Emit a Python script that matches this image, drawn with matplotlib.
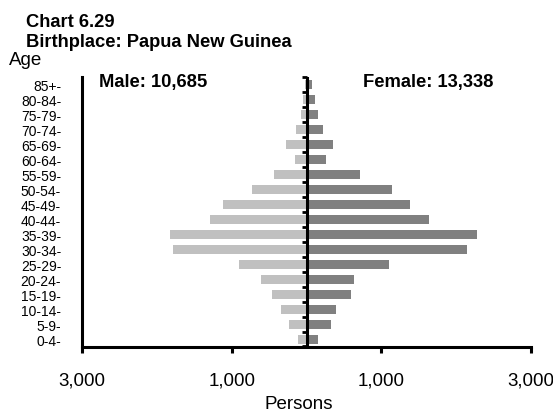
import numpy as np
import matplotlib.pyplot as plt

plt.rcParams['font.family'] = ['Liberation Sans', 'DejaVu Sans']

# age groups, bottom to top
ages = ["0-4", "5-9", "10-14", "15-19", "20-24", "25-29", "30-34", "35-39",
        "40-44", "45-49", "50-54", "55-59", "60-64", "65-69", "70-74",
        "75-79", "80-84", "85+"]
male = [113, 233, 344, 464, 607, 904, 1784, 1824, 1287, 1113, 727, 437,
        149, 277, 136, 77, 50, 20]
female = [147, 324, 396, 596, 640, 1107, 2147, 2284, 1640, 1387, 1137, 716,
          262, 360, 217, 150, 120, 80]
male_total = "10,685"
female_total = "13,338"
xticks = [-3000, -1000, 1000, 3000]

W, H = 553, 414
fig = plt.figure(figsize=(W / 100, H / 100), dpi=100)
ax = fig.add_axes([82 / W, 1 - 347.5 / H, 449 / W, 269.5 / H])

y = np.arange(len(ages))
ax.barh(y, -np.array(male), height=0.6, color='#c0c0c0', zorder=2)
ax.barh(y, female, height=0.6, color='#808080', zorder=2)

# centre axis with small ticks at group boundaries
ax.axvline(0, color='black', lw=2.2, zorder=3)
bounds = np.arange(len(ages) + 1) - 0.5
ax.plot(np.zeros(len(bounds)), bounds, linestyle='none', marker=0,
        markersize=3.5, markeredgewidth=2, color='black', zorder=3, clip_on=False)

ax.set_xlim(-3000, 3000)
ax.set_ylim(-0.5, len(ages) - 0.5)
ax.set_xticks(xticks)
ax.set_xticklabels([f"{abs(v):,}" for v in xticks], fontsize=13.5)
ax.set_yticks(y)
ax.set_yticklabels([a + "-" for a in ages], fontsize=10)
ax.tick_params(axis='y', length=0, pad=15)
ax.tick_params(axis='x', length=4, width=2.2, pad=14)

for s in ['top', 'right']:
    ax.spines[s].set_visible(False)
for s in ['left', 'bottom']:
    ax.spines[s].set_linewidth(2.2)

fig.text(299 / W, 1 - 409 / H, "Persons", fontsize=13.5,
         ha='center', va='baseline')

fig.text(26 / W, 1 - 27 / H, "Chart 6.29", fontsize=13.2,
         fontweight='bold', va='baseline')
fig.text(26 / W, 1 - 47 / H, "Birthplace: Papua New Guinea", fontsize=13.2,
         fontweight='bold', va='baseline')
fig.text(9 / W, 1 - 65 / H, "Age", fontsize=13.5, va='baseline')
fig.text(99 / W, 1 - 87 / H, "Male: " + male_total, fontsize=13.2,
         fontweight='bold', va='baseline')
fig.text(363 / W, 1 - 87 / H, "Female: " + female_total, fontsize=13.2,
         fontweight='bold', va='baseline')

fig.savefig("out.png", dpi=100)
